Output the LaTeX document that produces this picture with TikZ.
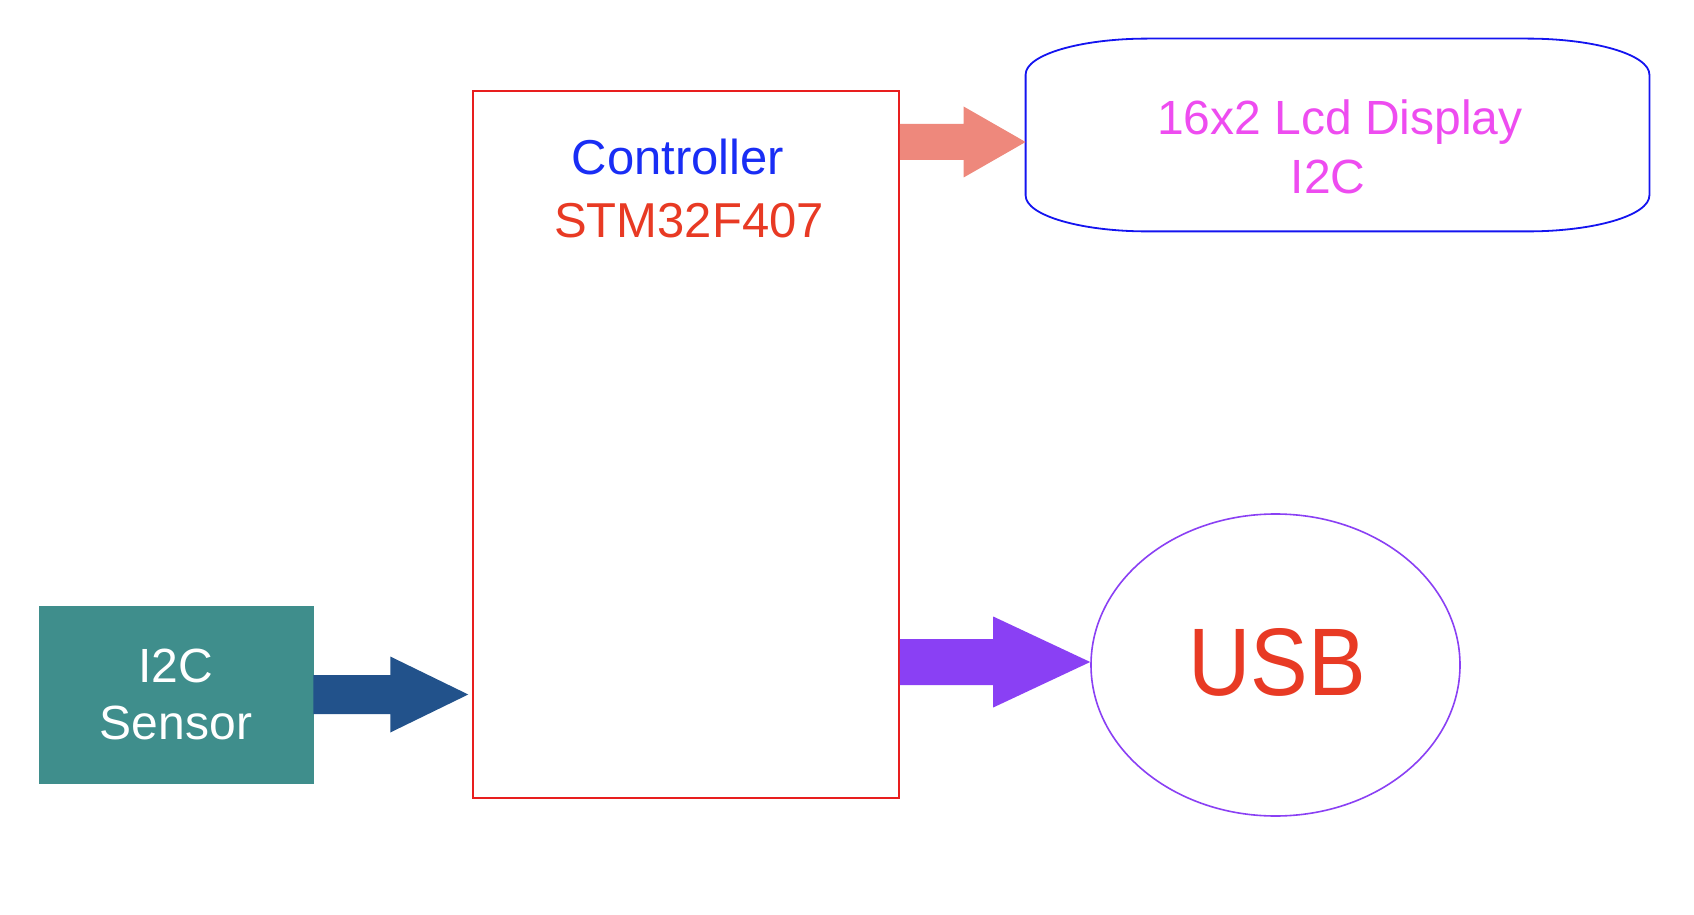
\documentclass[tikz,border=0pt]{standalone}
\usepackage{fontspec}
\setmainfont{Liberation Sans}
\usetikzlibrary{calc,shapes.geometric}
\definecolor{teal1}{RGB}{63,142,140}
\definecolor{arrowblue}{RGB}{34,82,139}
\definecolor{arrowsalmon}{RGB}{238,136,124}
\definecolor{arrowpurple}{RGB}{138,64,244}
\definecolor{ctrlred}{RGB}{232,30,30}
\definecolor{lcdblue}{RGB}{20,20,240}
\definecolor{ctrlblue}{RGB}{25,45,245}
\definecolor{chipred}{RGB}{232,58,36}
\definecolor{lcdmagenta}{RGB}{238,76,240}
\newcommand\blockarrow[6]{%
  \fill[#6] let \p1=(#1), \p2=(#2) in
    (\x1,\y1+#3) -- (\x2-#5,\y1+#3) -- (\x2-#5,\y1+#4) -- (\x2,\y1)
    -- (\x2-#5,\y1-#4) -- (\x2-#5,\y1-#3) -- (\x1,\y1-#3) -- cycle;}
\tikzset{
  sensorbox/.style={rectangle, fill=teal1, draw=teal1, minimum width=137pt, minimum height=88.5pt,
    inner sep=0pt, align=center, text=white, font=\fontsize{24pt}{28.5pt}\selectfont},
  ctrlbox/.style={rectangle, draw=ctrlred, line width=0.75pt, minimum width=213pt, minimum height=353.5pt, inner sep=0pt},
  lcdbox/.style={rectangle, minimum width=311.5pt, minimum height=96pt, inner sep=0pt},
  lcdborder/.style={draw=lcdblue, line width=0.9pt},
  usbbox/.style={ellipse, draw=arrowpurple, line width=0.8pt, minimum width=184.5pt, minimum height=151pt, inner sep=0pt},
  txt/.style={inner sep=0pt, font=\fontsize{24pt}{28.8pt}\selectfont},
}
\begin{document}
\begin{tikzpicture}[x=0.5pt,y=-0.5pt]
\useasboundingbox (0,0) rectangle (1694,915);
\fill[white] (0,0) rectangle (1694,915);
% nodes
\node[sensorbox] (sensor) at (176,694.5) {I2C\\Sensor};
\node[ctrlbox] (ctrl) at (686,444.5) {};
\node[txt, anchor=base, text=ctrlblue, font=\fontsize{24.5pt}{29pt}\selectfont] (ctrlname) at (678,175) {Controller};
\node[txt, anchor=base, text=chipred, font=\fontsize{24.5pt}{29pt}\selectfont] (chip) at (689,238) {STM32F407};
\node[lcdbox] (lcd) at (1337.5,135) {};
\draw[lcdborder] ([xshift=61pt]lcd.north west) -- ([xshift=-61pt]lcd.north east)
  arc[start angle=90, end angle=0, x radius=61pt, y radius=18pt]
  -- ([yshift=18pt]lcd.south east)
  arc[start angle=0, end angle=-90, x radius=61pt, y radius=18pt]
  -- ([xshift=61pt]lcd.south west)
  arc[start angle=270, end angle=180, x radius=61pt, y radius=18pt]
  -- ([yshift=-18pt]lcd.north west)
  arc[start angle=180, end angle=90, x radius=61pt, y radius=18pt] -- cycle;
\node[txt, anchor=base, text=lcdmagenta] (lcdl1) at (1340,135) {16x2 Lcd Display};
\node[txt, anchor=base, text=lcdmagenta] (lcdl2) at (1328,193) {I2C};
\node[usbbox] (usb) at (1275.5,665) {};
\node[inner sep=0pt, text=chipred, font=\fontsize{48pt}{56pt}\selectfont] (usbtxt) at (1277,662) {\scalebox{0.9}[1]{USB}};
% connectors
\coordinate (ctrlin) at ([xshift=-2pt]ctrl.west |- sensor.east);
\coordinate (lcdin) at ([yshift=-3.5pt]lcd.west);
\coordinate (usbin) at ([yshift=1.5pt]usb.west);
\coordinate (ctrlout1) at (ctrl.east |- lcdin);
\coordinate (ctrlout2) at (ctrl.east |- usbin);
\blockarrow{sensor.east}{ctrlin}{9.75pt}{19pt}{39pt}{arrowblue}
\blockarrow{ctrlout1}{lcdin}{9pt}{17.75pt}{31pt}{arrowsalmon}
\blockarrow{ctrlout2}{usbin}{11.5pt}{22.75pt}{48.5pt}{arrowpurple}
\end{tikzpicture}
\end{document}
